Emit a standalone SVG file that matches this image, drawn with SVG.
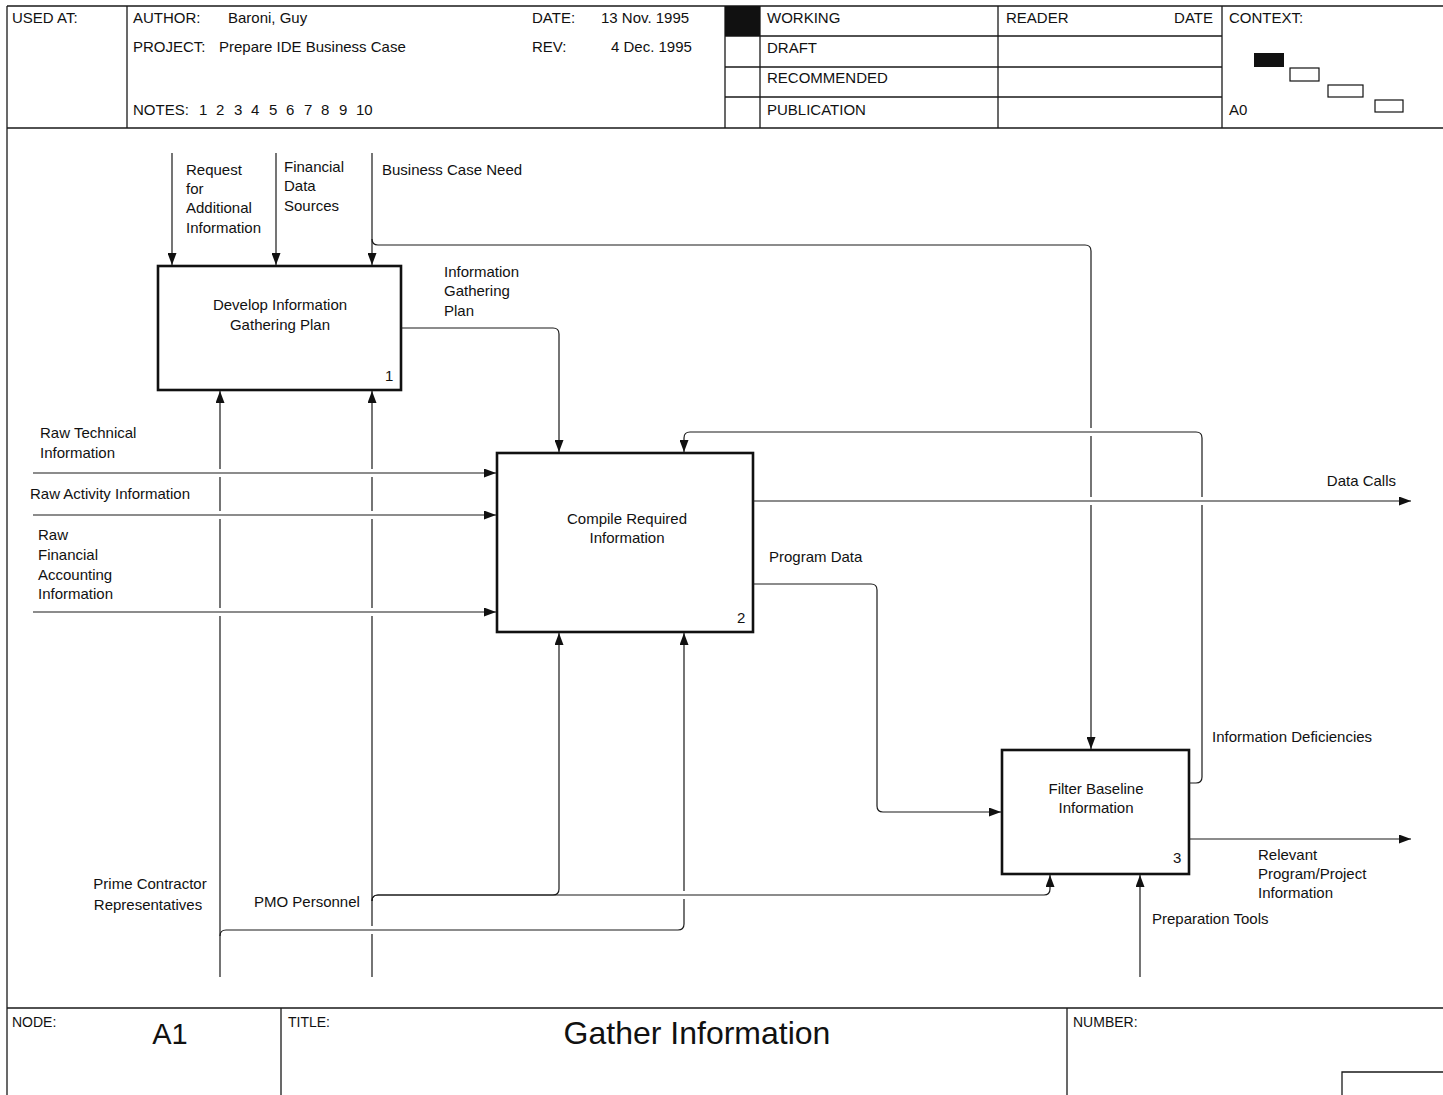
<svg xmlns="http://www.w3.org/2000/svg" width="1443" height="1095" viewBox="0 0 1443 1095">
  <defs>
    <marker id="arrow" markerUnits="userSpaceOnUse" markerWidth="12" markerHeight="9" refX="12" refY="4.5" orient="auto">
      <path d="M0,0 L12,4.5 L0,9 z" fill="#111"/>
    </marker>
    <style>
      text { font-family: "Liberation Sans", Arial, sans-serif; font-size: 15px; fill: #111; }
      text.small { font-size: 14px; }
      text.node { font-size: 29px; }
      text.title { font-size: 32px; }
      .frame { fill: none; stroke: #1a1a1a; stroke-width: 1.3; }
      .box { fill: #fff; stroke: #111; stroke-width: 2.6; }
      .conn { fill: none; stroke: #1a1a1a; stroke-width: 1.2; }
      .arr { marker-end: url(#arrow); }
      .mid { text-anchor: middle; }
      .end { text-anchor: end; }
    </style>
  </defs>
  <rect width="1443" height="1095" fill="#fff"/>

  <!-- title block (top) -->
  <g id="header">
    <path class="frame" d="M7,6 H1443 M7,6 V1095 M7,128 H1443 M127,6 V128 M725,6 V128 M760,6 V128 M998,6 V128 M1222,6 V128 M725,36 H1222 M725,67 H1222 M725,97 H1222"/>
    <rect x="725" y="6" width="35" height="30" fill="#111"/>
    <text x="12" y="23">USED AT:</text>
    <text x="133" y="23">AUTHOR:</text>
    <text x="228" y="23">Baroni, Guy</text>
    <text x="133" y="52">PROJECT:</text>
    <text x="219" y="52">Prepare IDE Business Case</text>
    <text x="133" y="115">NOTES:</text>
    <text x="199" y="115">1</text>
    <text x="216" y="115">2</text>
    <text x="234" y="115">3</text>
    <text x="251" y="115">4</text>
    <text x="269" y="115">5</text>
    <text x="286" y="115">6</text>
    <text x="304" y="115">7</text>
    <text x="321" y="115">8</text>
    <text x="339" y="115">9</text>
    <text x="356" y="115">10</text>
    <text x="532" y="23">DATE:</text>
    <text x="601" y="23">13 Nov. 1995</text>
    <text x="532" y="52">REV:</text>
    <text x="611" y="52">4 Dec. 1995</text>
    <text x="767" y="23">WORKING</text>
    <text x="767" y="53">DRAFT</text>
    <text x="767" y="83">RECOMMENDED</text>
    <text x="767" y="115">PUBLICATION</text>
    <text x="1006" y="23">READER</text>
    <text class="end" x="1213" y="23">DATE</text>
    <text x="1229" y="23">CONTEXT:</text>
    <text x="1229" y="115">A0</text>
    <rect x="1254" y="53" width="30" height="14" fill="#111"/>
    <rect x="1290" y="68" width="29" height="13" fill="none" stroke="#111" stroke-width="1.2"/>
    <rect x="1328" y="85" width="35" height="12" fill="none" stroke="#111" stroke-width="1.2"/>
    <rect x="1375" y="100" width="28" height="12" fill="none" stroke="#111" stroke-width="1.2"/>
  </g>

  <!-- title block (bottom) -->
  <g id="footer">
    <path class="frame" d="M7,1008 H1443 M281,1008 V1095 M1067,1008 V1095"/>
    <path class="frame" d="M1342,1095 V1072 H1443"/>
    <text class="small" x="12" y="1027">NODE:</text>
    <text class="node mid" x="170" y="1044">A1</text>
    <text class="small" x="288" y="1027">TITLE:</text>
    <text class="title mid" x="697" y="1044">Gather Information</text>
    <text class="small" x="1073" y="1027">NUMBER:</text>
  </g>

  <!-- activity boxes -->
  <g id="node-1">
    <rect class="box" x="158" y="266" width="243" height="124"/>
    <text class="mid" x="280" y="310">Develop Information</text>
    <text class="mid" x="280" y="330">Gathering Plan</text>
    <text x="385" y="381">1</text>
  </g>
  <g id="node-2">
    <rect class="box" x="497" y="453" width="256" height="179"/>
    <text class="mid" x="627" y="524">Compile Required</text>
    <text class="mid" x="627" y="543">Information</text>
    <text x="737" y="623">2</text>
  </g>
  <g id="node-3">
    <rect class="box" x="1002" y="750" width="187" height="124"/>
    <text class="mid" x="1096" y="794">Filter Baseline</text>
    <text class="mid" x="1096" y="813">Information</text>
    <text x="1173" y="863">3</text>
  </g>

  <!-- arrows -->
  <g id="connectors">
    <!-- controls into box 1 -->
    <path class="conn arr" d="M172,153 V265"/>
    <path class="conn arr" d="M276,153 V265"/>
    <path class="conn arr" d="M372,153 V265"/>
    <!-- Business Case Need branch to box 3 -->
    <path class="conn arr" d="M372,239 Q372,245 378,245 H1085 Q1091,245 1091,251 V428 M1091,436 V497 M1091,505 V749"/>
    <!-- Information Gathering Plan -->
    <path class="conn arr" d="M401,328 H553 Q559,328 559,334 V452"/>
    <!-- raw inputs -->
    <path class="conn arr" d="M33,473 H496"/>
    <path class="conn arr" d="M33,515 H496"/>
    <path class="conn arr" d="M33,612 H496"/>
    <!-- Data Calls -->
    <path class="conn arr" d="M753,501 H1411"/>
    <!-- Program Data -->
    <path class="conn arr" d="M753,584 H871 Q877,584 877,590 V806 Q877,812 883,812 H1001"/>
    <!-- Information Deficiencies feedback -->
    <path class="conn arr" d="M1189,783 H1196 Q1202,783 1202,777 V505 M1202,497 V438 Q1202,432 1196,432 H690 Q684,432 684,438 V452"/>
    <!-- Relevant Program/Project Information -->
    <path class="conn arr" d="M1189,839 H1411"/>
    <!-- Preparation Tools -->
    <path class="conn arr" d="M1140,977 V875"/>
    <!-- Prime Contractor Representatives -->
    <path class="conn arr" d="M220,977 V616 M220,608 V519 M220,511 V477 M220,469 V391"/>
    <path class="conn arr" d="M220,936 Q220,930 226,930 H678 Q684,930 684,924 V899 M684,891 V633"/>
    <!-- PMO Personnel -->
    <path class="conn arr" d="M372,977 V934 M372,926 V616 M372,608 V519 M372,511 V477 M372,469 V391"/>
    <path class="conn arr" d="M372,901 Q372,895 378,895 H553 Q559,895 559,889 V633"/>
    <path class="conn arr" d="M372,901 Q372,895 378,895 H1044 Q1050,895 1050,889 V875"/>
  </g>

  <!-- arrow labels -->
  <g id="labels">
    <text x="186" y="175">Request</text>
    <text x="186" y="194">for</text>
    <text x="186" y="213">Additional</text>
    <text x="186" y="233">Information</text>
    <text x="284" y="172">Financial</text>
    <text x="284" y="191">Data</text>
    <text x="284" y="211">Sources</text>
    <text x="382" y="175">Business Case Need</text>
    <text x="444" y="277">Information</text>
    <text x="444" y="296">Gathering</text>
    <text x="444" y="316">Plan</text>
    <text x="40" y="438">Raw Technical</text>
    <text x="40" y="458">Information</text>
    <text x="30" y="499">Raw Activity Information</text>
    <text x="38" y="540">Raw</text>
    <text x="38" y="560">Financial</text>
    <text x="38" y="580">Accounting</text>
    <text x="38" y="599">Information</text>
    <text class="end" x="1396" y="486">Data Calls</text>
    <text x="769" y="562">Program Data</text>
    <text x="1212" y="742">Information Deficiencies</text>
    <text x="1258" y="860">Relevant</text>
    <text x="1258" y="879">Program/Project</text>
    <text x="1258" y="898">Information</text>
    <text x="1152" y="924">Preparation Tools</text>
    <text class="mid" x="150" y="889">Prime Contractor</text>
    <text class="mid" x="148" y="910">Representatives</text>
    <text x="254" y="907">PMO Personnel</text>
  </g>
</svg>
